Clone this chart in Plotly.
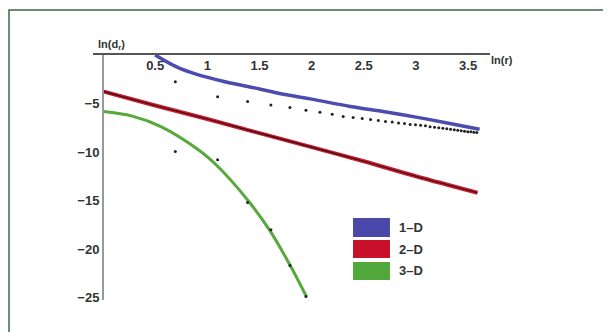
import numpy as np
import plotly.graph_objects as go

# series names
names = ["1\u2013D", "2\u2013D", "3\u2013D"]
colors = ["#4b4bb0", "#d01830", "#58a83c"]
boxColors = ["#4a48a8", "#c8102a", "#50a83a"]

# 1-D fitted curve
x1 = [0.5, 0.7, 0.9, 1.17, 1.5, 1.76, 2.0, 2.37, 2.7, 3.0, 3.3, 3.61]
y1 = [0.0, -1.2, -2.0, -2.75, -3.5, -4.1, -4.55, -5.3, -5.85, -6.4, -7.0, -7.65]

# 1-D measured points, r = 2..36
r1 = list(range(2, 37))
d1 = [-2.75, -4.3, -4.8, -5.15, -5.4, -5.7, -5.9, -6.1, -6.35, -6.45,
      -6.55, -6.65, -6.75, -6.85, -6.9, -7.0, -7.05, -7.15, -7.2, -7.25,
      -7.3, -7.4, -7.45, -7.5, -7.55, -7.6, -7.65, -7.7, -7.75, -7.8,
      -7.85, -7.9, -7.92, -7.96, -8.0]

# 2-D
x2 = [0, 0.5, 1.0, 1.5, 2.0, 2.5, 3.0, 3.59]
y2 = [-3.75, -5.2, -6.6, -8.05, -9.5, -10.95, -12.5, -14.2]

# 3-D fitted curve
x3 = [0, 0.28, 0.56, 0.93, 1.12, 1.39, 1.60, 1.79, 1.95]
y3 = [-5.83, -6.3, -7.4, -9.9, -11.7, -15.0, -18.1, -21.6, -24.9]

# 3-D measured points, r = 2..7
r3 = [2, 3, 4, 5, 6, 7]
d3 = [-9.95, -10.8, -15.2, -18.0, -21.7, -24.9]

xTicks = [0.5, 1, 1.5, 2, 2.5, 3, 3.5]
yTicks = [-5, -10, -15, -20, -25]

fig = go.Figure()

fig.add_trace(go.Scatter(x=x1, y=y1, mode="lines", line_shape="spline",
                         line=dict(color=colors[0], width=3.5)))
fig.add_trace(go.Scatter(x=np.log(r1), y=d1, mode="markers",
                         marker=dict(color="#222", size=3)))
fig.add_trace(go.Scatter(x=x2, y=y2, mode="lines", line_shape="spline",
                         line=dict(color=colors[1], width=4)))
fig.add_trace(go.Scatter(x=x2, y=y2, mode="lines", line_shape="spline",
                         line=dict(color="#2a1010", width=1.2)))
fig.add_trace(go.Scatter(x=x3, y=y3, mode="lines", line_shape="spline",
                         line=dict(color=colors[2], width=3)))
fig.add_trace(go.Scatter(x=np.log(r3), y=d3, mode="markers",
                         marker=dict(color="#223", size=3)))

tickFont = dict(family="Liberation Sans", size=13, color="#333", weight="bold")

fig.update_xaxes(range=[-0.096, 3.71], side="top", showline=True, linecolor="#555",
                 linewidth=2, tickvals=xTicks, ticktext=[str(v) for v in xTicks],
                 ticklabelposition="inside", ticks="", showgrid=False,
                 zeroline=False, tickfont=tickFont, automargin=False,
                 ticklabelstandoff=6)
fig.update_yaxes(range=[-25.25, 0], anchor="free", position=10 / 397, showline=True,
                 linecolor="#999", linewidth=2, tickvals=yTicks, ticks="",
                 showgrid=False, zeroline=False, tickfont=tickFont, automargin=False)

# legend drawn as boxes
boxY = [(0.335, 0.257), (0.245, 0.171), (0.155, 0.082)]
for i in range(3):
    fig.add_shape(type="rect", xref="paper", yref="paper", x0=0.655, x1=0.748,
                  y0=boxY[i][1], y1=boxY[i][0], fillcolor=boxColors[i],
                  line=dict(width=0))
    fig.add_annotation(xref="paper", yref="paper", x=0.766,
                       y=(boxY[i][0] + boxY[i][1]) / 2, text=names[i],
                       showarrow=False, xanchor="left", yanchor="middle",
                       font=dict(family="Liberation Sans", size=13, color="#333",
                                 weight="bold"))

# frame around the figure
fig.add_shape(type="rect", xref="paper", yref="paper", x0=-0.2116, x1=1.287,
              y0=-0.2, y1=1.184, line=dict(color="#3b6b47", width=1.5))

fig.add_annotation(xref="paper", yref="paper", x=0.008, y=1.078,
                   text="ln(d<sub>r</sub>)", showarrow=False,
                   font=dict(family="Liberation Sans", size=11, color="#333", weight="bold"))
fig.add_annotation(xref="paper", yref="paper", x=1.063, y=1.012,
                   text="ln(r)", showarrow=False,
                   font=dict(family="Liberation Sans", size=11, color="#333", weight="bold"))

# page body has an 8px margin, so the figure is 8px smaller each way
fig.update_layout(width=603, height=324, showlegend=False,
                  margin=dict(l=85, r=121, t=47, b=32, autoexpand=False),
                  plot_bgcolor="white", paper_bgcolor="white")

fig.write_html("out.html")
